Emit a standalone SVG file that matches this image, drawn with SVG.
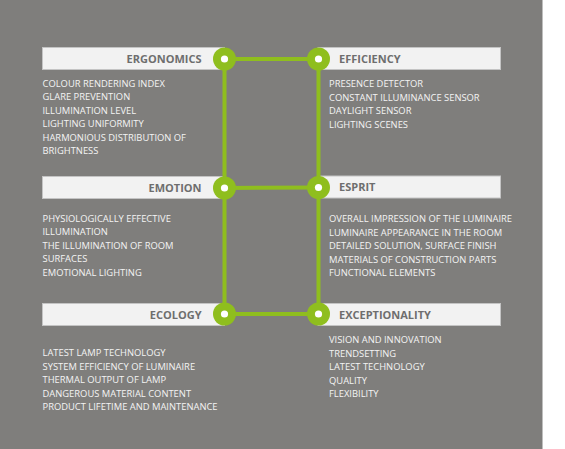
<svg xmlns="http://www.w3.org/2000/svg" width="565" height="449" viewBox="0 0 565 449">
<defs>
<style>
.bg{fill:#7f7e7c}
.bar{fill:#f2f2f2;stroke:#c4c4c4;stroke-width:1}
.hd{font-family:"Open Sans","Liberation Sans",sans-serif;font-weight:bold;font-size:11px;fill:#6e6e6e}
.tx{font-family:"Open Sans","Liberation Sans",sans-serif;font-size:9.4px;fill:#f4f4f4}
.ln{stroke:#8fbe1e;stroke-width:4;fill:none}
.dot{fill:#8fbe1e}
.hole{fill:#ffffff}
</style>
</defs>
<rect x="0" y="0" width="565" height="449" fill="#ffffff"/>
<rect class="bg" x="0" y="0" width="542.5" height="449"/>

<g id="bars">
<rect class="bar" x="42.5" y="47.5" width="182" height="22"/>
<rect class="bar" x="318" y="47.5" width="182.5" height="22"/>
<rect class="bar" x="42.5" y="176.5" width="182" height="22"/>
<rect class="bar" x="318" y="176" width="182.5" height="22"/>
<rect class="bar" x="42.5" y="303.5" width="182" height="22"/>
<rect class="bar" x="318" y="303.5" width="182.5" height="22"/>
</g>

<g id="connectors">
<line class="ln" x1="224.5" y1="59" x2="318.5" y2="59"/>
<line class="ln" x1="224.5" y1="188" x2="318.5" y2="187.5"/>
<line class="ln" x1="224.5" y1="314" x2="318.5" y2="314"/>
<line class="ln" x1="224.5" y1="59" x2="224.5" y2="314"/>
<line class="ln" x1="318.5" y1="59" x2="318.5" y2="314"/>
</g>

<g id="ergonomics">
<text class="hd" x="201.5" y="63" text-anchor="end">ERGONOMICS</text>
<circle class="dot" cx="224.5" cy="59" r="11.5"/><circle class="hole" cx="224.5" cy="59" r="3.6"/>
<text class="tx" x="42.5" y="86.7">COLOUR RENDERING INDEX</text>
<text class="tx" x="42.5" y="100.2">GLARE PREVENTION</text>
<text class="tx" x="42.5" y="113.7">ILLUMINATION LEVEL</text>
<text class="tx" x="42.5" y="127.2">LIGHTING UNIFORMITY</text>
<text class="tx" x="42.5" y="140.7">HARMONIOUS DISTRIBUTION OF</text>
<text class="tx" x="42.5" y="154.2">BRIGHTNESS</text>
</g>

<g id="efficiency">
<text class="hd" x="339" y="63">EFFICIENCY</text>
<circle class="dot" cx="318.5" cy="59" r="11.5"/><circle class="hole" cx="318.5" cy="59" r="3.6"/>
<text class="tx" x="329" y="87">PRESENCE DETECTOR</text>
<text class="tx" x="329" y="100.5">CONSTANT ILLUMINANCE SENSOR</text>
<text class="tx" x="329" y="114">DAYLIGHT SENSOR</text>
<text class="tx" x="329" y="127.5">LIGHTING SCENES</text>
</g>

<g id="emotion">
<text class="hd" x="201.5" y="191.8" text-anchor="end">EMOTION</text>
<circle class="dot" cx="224.5" cy="188" r="11.5"/><circle class="hole" cx="224.5" cy="188" r="3.6"/>
<text class="tx" x="42.5" y="221.5">PHYSIOLOGICALLY EFFECTIVE</text>
<text class="tx" x="42.5" y="235">ILLUMINATION</text>
<text class="tx" x="42.5" y="248.5">THE ILLUMINATION OF ROOM</text>
<text class="tx" x="42.5" y="262">SURFACES</text>
<text class="tx" x="42.5" y="275.5">EMOTIONAL LIGHTING</text>
</g>

<g id="esprit">
<text class="hd" x="339" y="191.2">ESPRIT</text>
<circle class="dot" cx="318.5" cy="187.5" r="11.5"/><circle class="hole" cx="318.5" cy="187.5" r="3.6"/>
<text class="tx" x="329" y="222.3">OVERALL IMPRESSION OF THE LUMINAIRE</text>
<text class="tx" x="329" y="235.8">LUMINAIRE APPEARANCE IN THE ROOM</text>
<text class="tx" x="329" y="249.3">DETAILED SOLUTION, SURFACE FINISH</text>
<text class="tx" x="329" y="262.8">MATERIALS OF CONSTRUCTION PARTS</text>
<text class="tx" x="329" y="276.3">FUNCTIONAL ELEMENTS</text>
</g>

<g id="ecology">
<text class="hd" x="201.5" y="318.5" text-anchor="end">ECOLOGY</text>
<circle class="dot" cx="224.5" cy="314" r="11.5"/><circle class="hole" cx="224.5" cy="314" r="3.6"/>
<text class="tx" x="42.5" y="356">LATEST LAMP TECHNOLOGY</text>
<text class="tx" x="42.5" y="369.5">SYSTEM EFFICIENCY OF LUMINAIRE</text>
<text class="tx" x="42.5" y="383">THERMAL OUTPUT OF LAMP</text>
<text class="tx" x="42.5" y="396.5">DANGEROUS MATERIAL CONTENT</text>
<text class="tx" x="42.5" y="410">PRODUCT LIFETIME AND MAINTENANCE</text>
</g>

<g id="exceptionality">
<text class="hd" x="339" y="318.5">EXCEPTIONALITY</text>
<circle class="dot" cx="318.5" cy="314" r="11.5"/><circle class="hole" cx="318.5" cy="314" r="3.6"/>
<text class="tx" x="329" y="343.3">VISION AND INNOVATION</text>
<text class="tx" x="329" y="356.8">TRENDSETTING</text>
<text class="tx" x="329" y="370.3">LATEST TECHNOLOGY</text>
<text class="tx" x="329" y="383.8">QUALITY</text>
<text class="tx" x="329" y="397.3">FLEXIBILITY</text>
</g>
</svg>
